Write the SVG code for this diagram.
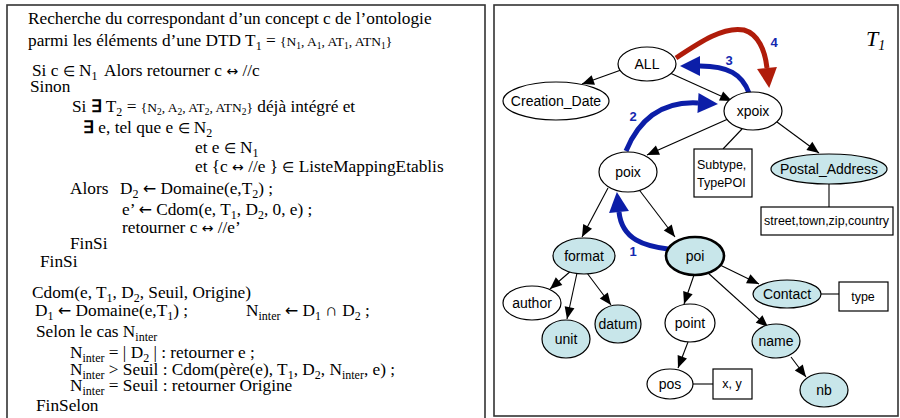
<svg xmlns="http://www.w3.org/2000/svg" width="900" height="418" viewBox="0 0 900 418">
<style>
.frame{fill:#fff;stroke:#333;stroke-width:1.6}
.t{font-family:"Liberation Serif","Times New Roman",serif;font-size:17.3px;fill:#000}
.s{font-size:12px}
.sm{font-size:13.5px}
.ss{font-size:9.5px}
.el{font-size:14px}
.ar{font-family:"DejaVu Sans",sans-serif;font-size:16px}
.lr{font-family:"DejaVu Sans",sans-serif;font-size:14px}
.n ellipse{stroke:#000;stroke-width:1.2}
.w{fill:#fff}
.b{fill:#c8e6ea}
.lbl{font-family:"Liberation Sans",Arial,sans-serif;font-size:14px;fill:#000;text-anchor:middle}
.box{fill:#fff;stroke:#000;stroke-width:1.2}
.bt{font-family:"Liberation Sans",Arial,sans-serif;font-size:12.5px;fill:#000}
.e{stroke:#000;stroke-width:1.1;fill:none}
.ea{stroke:#000;stroke-width:1.1;fill:none;marker-end:url(#ah)}
.blue{stroke:#0c1ea8;stroke-width:5;fill:none;marker-end:url(#bh)}
.red{stroke:#b01c0a;stroke-width:5;fill:none;marker-end:url(#rh)}
.num{font-family:"Liberation Sans",Arial,sans-serif;font-size:13px;font-weight:bold;fill:#1428b0;text-anchor:middle}
</style>
<defs>
<marker id="ah" markerUnits="userSpaceOnUse" markerWidth="13" markerHeight="11" refX="12" refY="5" orient="auto" overflow="visible">
<path d="M0,0 L12,5 L0,10 z" fill="#000"/>
</marker>
<marker id="bh" markerUnits="userSpaceOnUse" markerWidth="22" markerHeight="22" refX="0" refY="10" orient="auto" overflow="visible">
<path d="M0,0 L20,10 L0,20 z" fill="#0c1ea8"/>
</marker>
<marker id="rh" markerUnits="userSpaceOnUse" markerWidth="22" markerHeight="22" refX="0" refY="10" orient="auto" overflow="visible">
<path d="M0,0 L20,10 L0,20 z" fill="#b01c0a"/>
</marker>
</defs>
<rect width="900" height="418" fill="#fff"/>

<!-- Left panel: algorithm -->
<g id="algorithm">
<rect class="frame" x="7" y="5" width="478" height="420"/>
<text class="t" x="28" y="24">Recherche du correspondant d’un concept c de l’ontologie</text>
<text class="t" x="28" y="46">parmi les éléments d’une DTD T<tspan class="s" dy="4">1</tspan><tspan dy="-4"> = </tspan><tspan class="sm">{N</tspan><tspan class="ss" dy="3">1</tspan><tspan class="sm" dy="-3">, A</tspan><tspan class="ss" dy="3">1</tspan><tspan class="sm" dy="-3">, AT</tspan><tspan class="ss" dy="3">1</tspan><tspan class="sm" dy="-3">, ATN</tspan><tspan class="ss" dy="3">1</tspan><tspan class="sm" dy="-3">}</tspan></text>
<text class="t" x="32" y="76">Si c <tspan class="el">∈</tspan> N<tspan class="s" dy="4">1</tspan><tspan dy="-4" x="104">Alors retourner c </tspan><tspan class="lr">↔</tspan> //c</text>
<text class="t" x="30" y="92">Sinon</text>
<text class="t" x="72" y="112">Si <tspan font-weight="bold">∃</tspan> T<tspan class="s" dy="4">2</tspan><tspan dy="-4"> = </tspan><tspan class="sm">{N</tspan><tspan class="ss" dy="3">2</tspan><tspan class="sm" dy="-3">, A</tspan><tspan class="ss" dy="3">2</tspan><tspan class="sm" dy="-3">, AT</tspan><tspan class="ss" dy="3">2</tspan><tspan class="sm" dy="-3">, ATN</tspan><tspan class="ss" dy="3">2</tspan><tspan class="sm" dy="-3">}</tspan> déjà intégré et</text>
<text class="t" x="83" y="133"><tspan font-weight="bold">∃</tspan> e, tel que e <tspan class="el">∈</tspan> N<tspan class="s" dy="4">2</tspan></text>
<text class="t" x="195" y="153">et e <tspan class="el">∈</tspan> N<tspan class="s" dy="4">1</tspan></text>
<text class="t" x="195" y="172">et {c <tspan class="lr">↔</tspan> //e } <tspan class="el">∈</tspan> ListeMappingEtablis</text>
<text class="t" x="70" y="194">Alors<tspan x="120">D</tspan><tspan class="s" dy="4">2</tspan><tspan dy="-4"> </tspan><tspan class="ar">←</tspan> Domaine(e,T<tspan class="s" dy="4">2</tspan><tspan dy="-4">) ;</tspan></text>
<text class="t" x="122" y="215">e’ <tspan class="ar">←</tspan> Cdom(e, T<tspan class="s" dy="4">1</tspan><tspan dy="-4">, D</tspan><tspan class="s" dy="4">2</tspan><tspan dy="-4">, 0, e) ;</tspan></text>
<text class="t" x="122" y="233">retourner c <tspan class="lr">↔</tspan> //e’</text>
<text class="t" x="70" y="249">FinSi</text>
<text class="t" x="40" y="267">FinSi</text>
<text class="t" x="32" y="298">Cdom(e, T<tspan class="s" dy="4">1</tspan><tspan dy="-4">, D</tspan><tspan class="s" dy="4">2</tspan><tspan dy="-4">, Seuil, Origine)</tspan></text>
<text class="t" x="35" y="316">D<tspan class="s" dy="4">1</tspan><tspan dy="-4"> </tspan><tspan class="ar">←</tspan> Domaine(e,T<tspan class="s" dy="4">1</tspan><tspan dy="-4">) ;</tspan><tspan x="246">N</tspan><tspan class="s" dy="4">inter</tspan><tspan dy="-4"> </tspan><tspan class="ar">←</tspan> D<tspan class="s" dy="4">1</tspan><tspan dy="-4"> ∩ D</tspan><tspan class="s" dy="4">2</tspan><tspan dy="-4"> ;</tspan></text>
<text class="t" x="36" y="337">Selon le cas N<tspan class="s" dy="4">inter</tspan></text>
<text class="t" x="70" y="358">N<tspan class="s" dy="4">inter</tspan><tspan dy="-4"> = | D</tspan><tspan class="s" dy="4">2</tspan><tspan dy="-4"> | : retourner e ;</tspan></text>
<text class="t" x="70" y="375">N<tspan class="s" dy="4">inter</tspan><tspan dy="-4"> &gt; Seuil : Cdom(père(e), T</tspan><tspan class="s" dy="4">1</tspan><tspan dy="-4">, D</tspan><tspan class="s" dy="4">2</tspan><tspan dy="-4">, N</tspan><tspan class="s" dy="4">inter</tspan><tspan dy="-4">, e) ;</tspan></text>
<text class="t" x="70" y="391">N<tspan class="s" dy="4">inter</tspan><tspan dy="-4"> = Seuil : retourner Origine</tspan></text>
<text class="t" x="36" y="411">FinSelon</text>
</g>

<!-- Right panel frame -->
<g id="panel-T1">
<rect class="frame" x="494" y="5" width="404" height="411"/>
<text x="866" y="46" font-family="Liberation Serif,serif" font-style="italic" font-size="22">T<tspan font-size="14" dy="4">1</tspan></text>
</g>

<!-- Connectors -->
<g id="connectors">
<line class="ea" x1="621" y1="70" x2="582" y2="84"/>
<line class="ea" x1="670" y1="73" x2="732" y2="101"/>
<line class="ea" x1="728" y1="119" x2="647" y2="155"/>
<line class="e" x1="742" y1="129" x2="723" y2="149"/>
<line class="ea" x1="777" y1="122" x2="819" y2="153"/>
<line class="e" x1="829" y1="184" x2="829" y2="207"/>
<line class="ea" x1="608" y1="188" x2="582" y2="237"/>
<line class="ea" x1="637" y1="187" x2="675" y2="237"/>
<line class="ea" x1="572" y1="270" x2="550" y2="289"/>
<line class="ea" x1="577" y1="273" x2="567" y2="319"/>
<line class="ea" x1="587" y1="273" x2="611" y2="305"/>
<line class="ea" x1="694" y1="275" x2="684" y2="304"/>
<line class="ea" x1="707" y1="272" x2="768" y2="327"/>
<line class="ea" x1="720" y1="265" x2="759" y2="284"/>
<line class="e" x1="821" y1="294" x2="839" y2="294"/>
<line class="ea" x1="688" y1="342" x2="678" y2="368"/>
<line class="ea" x1="791" y1="357" x2="806" y2="377"/>
<line class="e" x1="693" y1="384" x2="713" y2="384"/>
<path class="blue" d="M668,249 C645,246 622,240 619,212"/>
<path class="blue" d="M626,151 C638,122 660,101 698,103"/>
<path class="blue" d="M749,93 C742,74 728,66 700,66"/>
<path class="red" d="M676,58 C700,42 724,26 744,30 C758,34 765,50 767,68"/>
<text class="num" x="633" y="256">1</text>
<text class="num" x="633" y="121">2</text>
<text class="num" x="729" y="65">3</text>
<text class="num" x="774" y="47">4</text>
</g>

<!-- Nodes -->
<g id="ALL" class="n"><ellipse class="w" cx="647" cy="64" rx="29" ry="17"/><text class="lbl" x="647" y="69">ALL</text></g>
<g id="Creation_Date" class="n"><ellipse class="w" cx="556" cy="101" rx="53" ry="19"/><text class="lbl" x="556" y="106">Creation_Date</text></g>
<g id="xpoix" class="n"><ellipse class="w" cx="753" cy="111" rx="29" ry="19"/><text class="lbl" x="753" y="116">xpoix</text></g>
<g id="poix" class="n"><ellipse class="w" cx="628" cy="172" rx="29" ry="20"/><text class="lbl" x="628" y="177">poix</text></g>
<g id="Subtype"><rect class="box" x="694" y="149" width="58" height="48"/><text class="bt" x="697" y="169">Subtype,</text><text class="bt" x="697" y="187">TypePOI</text></g>
<g id="Postal_Address" class="n"><ellipse class="b" cx="829" cy="169" rx="58" ry="15"/><text class="lbl" x="829" y="174">Postal_Address</text></g>
<g id="street"><rect class="box" x="761" y="207" width="132" height="28"/><text class="bt" x="764" y="225">street,town,zip,country</text></g>
<g id="format" class="n"><ellipse class="b" cx="584" cy="256" rx="31" ry="18"/><text class="lbl" x="584" y="261">format</text></g>
<g id="poi" class="n"><ellipse class="b" cx="695" cy="256" rx="29" ry="19" style="stroke-width:2.6"/><text class="lbl" x="695" y="261">poi</text></g>
<g id="Contact" class="n"><ellipse class="b" cx="787" cy="294" rx="34" ry="14"/><text class="lbl" x="787" y="299">Contact</text></g>
<g id="type"><rect class="box" x="839" y="282" width="49" height="29"/><text class="bt" x="863" y="301" text-anchor="middle">type</text></g>
<g id="author" class="n"><ellipse class="w" cx="532" cy="303" rx="29" ry="17"/><text class="lbl" x="532" y="308">author</text></g>
<g id="unit" class="n"><ellipse class="b" cx="566" cy="339" rx="24" ry="19"/><text class="lbl" x="566" y="344">unit</text></g>
<g id="datum" class="n"><ellipse class="b" cx="618" cy="324" rx="23" ry="19"/><text class="lbl" x="618" y="329">datum</text></g>
<g id="point" class="n"><ellipse class="w" cx="690" cy="323" rx="25" ry="19"/><text class="lbl" x="690" y="328">point</text></g>
<g id="name" class="n"><ellipse class="b" cx="776" cy="341" rx="24" ry="17"/><text class="lbl" x="776" y="346">name</text></g>
<g id="pos" class="n"><ellipse class="w" cx="670" cy="384" rx="23" ry="15"/><text class="lbl" x="670" y="389">pos</text></g>
<g id="xy"><rect class="box" x="713" y="369" width="39" height="30"/><text class="bt" x="732" y="388" text-anchor="middle">x, y</text></g>
<g id="nb" class="n"><ellipse class="b" cx="824" cy="390" rx="24" ry="17"/><text class="lbl" x="824" y="395">nb</text></g>
</svg>
